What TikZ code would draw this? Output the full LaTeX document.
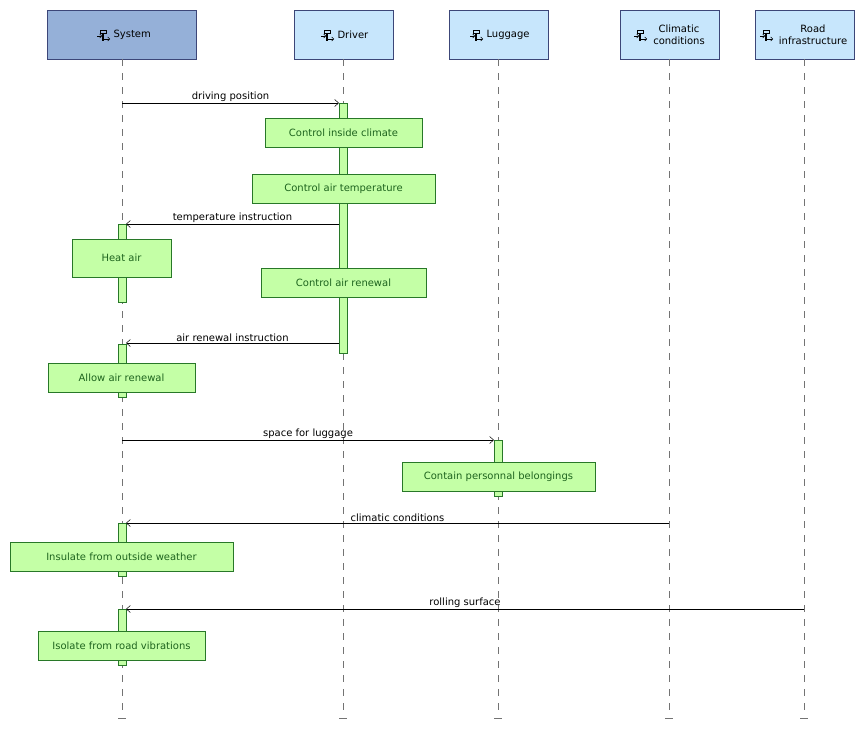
\documentclass[tikz,border=0pt]{standalone}
\usepackage{fontspec}
\setmainfont{DejaVu Sans}
\usetikzlibrary{arrows.meta,calc}
\definecolor{sysblue}{RGB}{149,176,216}
\definecolor{actblue}{RGB}{199,230,252}
\definecolor{hdborder}{RGB}{60,70,120}
\definecolor{fngreen}{RGB}{196,255,166}
\definecolor{fnborder}{RGB}{40,120,40}
\definecolor{fntext}{RGB}{30,100,30}
\begin{document}
\begin{tikzpicture}[x=1pt,y=-1pt,
  every node/.style={font=\fontsize{10}{11.5}\selectfont},
  head/.style={draw=hdborder,fill=#1,line width=0.8pt},
  life/.style={draw=black!55,dash pattern=on 7pt off 7pt},
  act/.style={draw=fnborder,fill=fngreen,line width=0.5pt},
  fn/.style={draw=fnborder,fill=fngreen,text=fntext,inner sep=0pt},
  msg/.style={-{Straight Barb[length=4pt,width=7pt]},line width=0.5pt},
  lbl/.style={above,inner sep=1pt}]
\useasboundingbox (0,0) rectangle (865,736);
\newcommand{\actoricon}[1]{%
  \draw[line width=0.6pt] ($(#1)+(-4,-5)$) rectangle ($(#1)+(2,-2)$);
  \draw[line width=1.4pt] ($(#1)+(-1,-2)$) -- ($(#1)+(-1,6)$);
  \draw[line width=0.5pt,-{Straight Barb[length=2pt]}] ($(#1)+(-7,1)$) -- ($(#1)+(-2,1)$);
  \draw[line width=0.5pt,-{Straight Barb[length=2pt]}] ($(#1)+(0,4)$) -- ($(#1)+(6,4)$);}
% headers
\path[head=sysblue] (47,10) rectangle (196,59);
\foreach \xa/\xb in {294/393,449/548,620/719,755/854}
  \path[head=actblue] (\xa,10) rectangle (\xb,59);
\node[anchor=west] (ts) at (110,35) {System};
\node[anchor=west] (td) at (334,35) {Driver};
\node[anchor=west] (tl) at (483,35) {Luggage};
\node[anchor=center,align=center] (tc) at (679,35) {Climatic\\conditions};
\node[anchor=center,align=center] (tr) at (813,35) {Road\\infrastructure};
\coordinate (i1) at (104,35); \actoricon{i1}
\coordinate (i2) at (328,35); \actoricon{i2}
\coordinate (i3) at (477,35); \actoricon{i3}
\coordinate (i4) at (641,35); \actoricon{i4}
\coordinate (i5) at (767,35); \actoricon{i5}
% lifelines
\foreach \x in {122,343,498,669,804}{
  \draw[life] (\x,59) -- (\x,712);
  \draw[black!55] (\x-4,718) -- (\x+4,718);}
% activations
\path[act] (339,103) rectangle (347,353);
\path[act] (118,224) rectangle (126,302);
\path[act] (118,344) rectangle (126,397);
\path[act] (118,523) rectangle (126,576);
\path[act] (118,609) rectangle (126,665);
\path[act] (494,440) rectangle (502,496);
% functions
\node[fn,minimum width=157pt,minimum height=29pt] (f1) at (343.5,132.5) {Control inside climate};
\node[fn,minimum width=183pt,minimum height=29pt] (f2) at (343.5,188.5) {Control air temperature};
\node[fn,minimum width=99pt,minimum height=38pt] (f3) at (121.5,258) {Heat air};
\node[fn,minimum width=165pt,minimum height=29pt] (f4) at (343.5,282.5) {Control air renewal};
\node[fn,minimum width=147pt,minimum height=29pt] (f5) at (121.5,377.5) {Allow air renewal};
\node[fn,minimum width=193pt,minimum height=29pt] (f6) at (498.5,476.5) {Contain personnal belongings};
\node[fn,minimum width=223pt,minimum height=29pt] (f7) at (121.5,556.5) {Insulate from outside weather};
\node[fn,minimum width=167pt,minimum height=29pt] (f8) at (121.5,645.5) {Isolate from road vibrations};
% messages
\coordinate (m1a) at (122,103); \coordinate (m1b) at (339,103);
\coordinate (m2a) at (339,224); \coordinate (m2b) at (126,224);
\coordinate (m3a) at (339,343); \coordinate (m3b) at (126,343);
\coordinate (m4a) at (122,440); \coordinate (m4b) at (494,440);
\coordinate (m5a) at (669,523); \coordinate (m5b) at (126,523);
\coordinate (m6a) at (804,609); \coordinate (m6b) at (126,609);
\draw[msg] (m1a) -- node[lbl]{driving position} (m1b);
\draw[msg] (m2a) -- node[lbl]{temperature instruction} (m2b);
\draw[msg] (m3a) -- node[lbl]{air renewal instruction} (m3b);
\draw[msg] (m4a) -- node[lbl]{space for luggage} (m4b);
\draw[msg] (m5a) -- node[lbl]{climatic conditions} (m5b);
\draw[msg] (m6a) -- node[lbl]{rolling surface} (m6b);
\end{tikzpicture}
\end{document}
